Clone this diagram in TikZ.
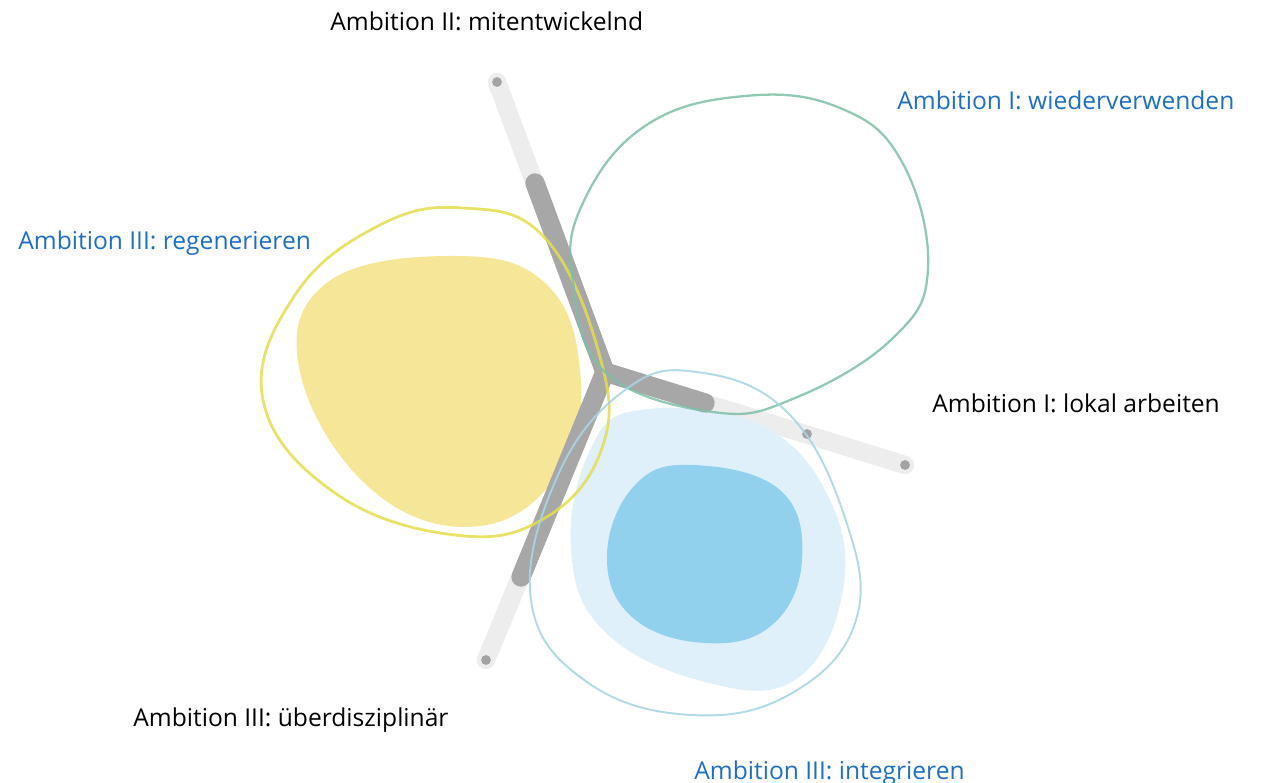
\documentclass[tikz,border=0pt]{standalone}
\usepackage{fontspec}
\setmainfont{Open Sans}
\definecolor{armdarkc}{HTML}{A7A7A7}
\definecolor{armlightc}{HTML}{EDEDED}
\definecolor{dotc}{HTML}{A3A3A3}
\definecolor{yelfill}{HTML}{F5E698}
\definecolor{yelline}{HTML}{E4DE4C}
\definecolor{greenline}{HTML}{7FBFA6}
\definecolor{bluefillA}{HTML}{DFF0FB}
\definecolor{bluefillB}{HTML}{92D1EE}
\definecolor{blueline}{HTML}{A9D5E4}
\definecolor{ambblue}{HTML}{1F6FC8}
\tikzset{
  armlight/.style={line width=10.5pt, line cap=round, armlightc},
  armdark/.style={line width=11pt, line cap=round, armdarkc},
  enddot/.style={fill=dotc},
  blob/.style={smooth cycle, tension=0.7},
  lbl/.style={anchor=base west, inner sep=0pt, font=\fontsize{14}{17}\selectfont}
}
\begin{document}
\begin{tikzpicture}[x=0.02cm, y=-0.02cm]
  \useasboundingbox (0,0) rectangle (1263,783);

  \coordinate (hub) at (605,372);
  \coordinate (upin) at (535,183);
  \coordinate (upend) at (497,82);
  \coordinate (rightin) at (705,403);
  \coordinate (rightmid) at (807,434);
  \coordinate (rightend) at (905,465);
  \coordinate (downin) at (521,577);
  \coordinate (downend) at (486,660);

  % light arms
  \draw[armlight] (hub) -- (upend);
  \draw[armlight] (hub) -- (rightend);
  \draw[armlight] (hub) -- (downend);
  \fill[enddot] (upend) circle [radius=2.8pt];
  \fill[enddot] (rightmid) circle [radius=2.8pt];
  \fill[enddot] (rightend) circle [radius=2.8pt];
  \fill[enddot] (downend) circle [radius=2.8pt];

  % filled blobs
  \fill[yelfill] plot[blob] coordinates {(455,256) (545,283) (580,370) (562,468)
    (480,526) (372,490) (300,372) (328,282)};
  \fill[bluefillA] plot[blob] coordinates {(640,410) (760,425) (830,500) (842,595)
    (795,680) (705,682) (605,632) (571,550) (590,450)};
  \fill[bluefillB] plot[blob] coordinates {(693,465) (780,490) (802,560) (772,625)
    (705,643) (632,617) (607,555) (635,485)};

  % dark arms
  \draw[armdark] (hub) -- (upin);
  \draw[armdark] (hub) -- (rightin);
  \draw[armdark] (hub) -- (downin);

  % outlines
  \draw[yelline, line width=1.6pt, opacity=0.85] plot[blob] coordinates {(463,208) (545,238)
    (600,357) (602,448) (545,518) (455,535) (335,493) (263,400) (295,295) (378,226)};
  \draw[greenline, line width=1.3pt, opacity=0.85] plot[blob] coordinates {(605,372) (573,282)
    (582,205) (645,126) (745,96) (840,108) (902,162) (928,268) (893,338) (795,398)
    (713,412)};
  \draw[blueline, line width=1.1pt, opacity=0.9] plot[blob] coordinates {(697,372) (787,412)
    (845,518) (856,620) (792,693) (692,715) (587,682) (531,600) (558,475) (625,390)};

  % labels
  \node[lbl] (mitent) at (330,31) {Ambition II: mitentwickelnd};
  \node[lbl, text=ambblue] (wieder) at (897,110) {Ambition I: wiederverwenden};
  \node[lbl, text=ambblue] (regen) at (18,250) {Ambition III: regenerieren};
  \node[lbl] (lokal) at (932,413) {Ambition I: lokal arbeiten};
  \node[lbl] (ueber) at (133,726) {Ambition III: überdisziplinär};
  \node[lbl, text=ambblue] (integ) at (694,779) {Ambition III: integrieren};
\end{tikzpicture}
\end{document}
